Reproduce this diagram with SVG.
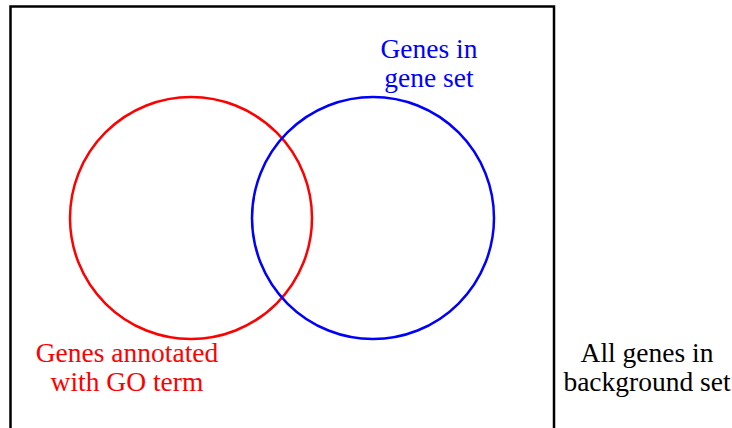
<svg xmlns="http://www.w3.org/2000/svg" width="732" height="428" viewBox="0 0 732 428">
<defs>
<style>
.set{fill:none;stroke-width:2.5}
</style>
</defs>
<rect x="0" y="0" width="732" height="428" fill="#fff"/>
<g id="background">
<rect x="10.5" y="6.5" width="543.5" height="440" fill="none" stroke="#000" stroke-width="2.5"/>
<text x="647" y="362" fill="#000" style="font-family:'Liberation Serif',serif;font-size:27.5px" text-anchor="middle">All genes in</text>
<text x="647" y="391" fill="#000" style="font-family:'Liberation Serif',serif;font-size:27.5px" text-anchor="middle">background set</text>
</g>
<g id="go-term">
<circle class="set" cx="191" cy="218" r="121" stroke="#ff0000"/>
<text x="127" y="362" fill="#ff0000" style="font-family:'Liberation Serif',serif;font-size:27.5px" text-anchor="middle">Genes annotated</text>
<text x="127" y="391" fill="#ff0000" style="font-family:'Liberation Serif',serif;font-size:27.5px" text-anchor="middle">with GO term</text>
</g>
<g id="gene-set">
<circle class="set" cx="373" cy="218" r="121" stroke="#0000ff"/>
<text x="429" y="58" fill="#0000ff" style="font-family:'Liberation Serif',serif;font-size:27.5px" text-anchor="middle">Genes in</text>
<text x="429" y="87" fill="#0000ff" style="font-family:'Liberation Serif',serif;font-size:27.5px" text-anchor="middle">gene set</text>
</g>
<g id="connectors"></g>
</svg>
